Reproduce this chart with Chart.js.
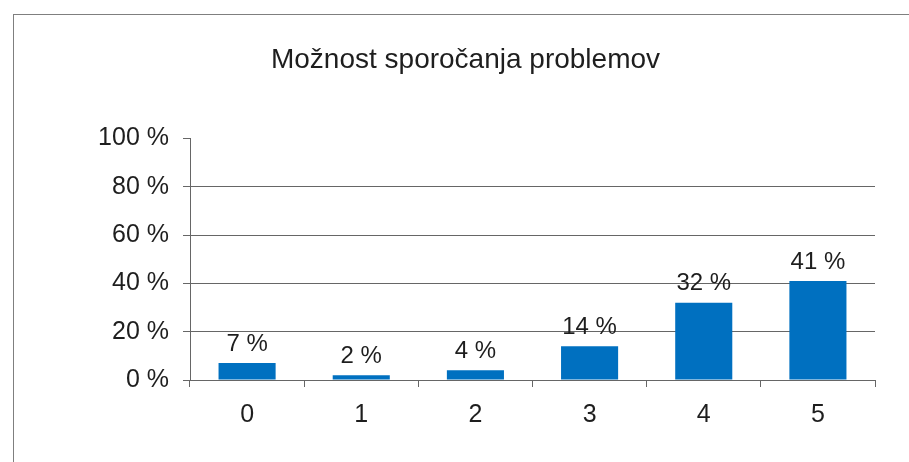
<!DOCTYPE html>
<html>
<head>
<meta charset="utf-8">
<script src="https://cdn.jsdelivr.net/npm/chart.js@4"></script>
<style>
  html, body { margin: 0; padding: 0; background: #fff; }
  #wrap { position: relative; width: 909px; height: 462px; }
  #frame { position: absolute; left: 13px; top: 14px; right: -2px; bottom: -2px;
           border-top: 1px solid #7f7f7f; border-left: 1px solid #7f7f7f; pointer-events: none; }
</style>
</head>
<body>
<div id="wrap">
  <canvas id="c"></canvas>
  <div id="frame"></div>
</div>
<script>
// chart data
const TITLE = 'Možnost sporočanja problemov';
const categories = ['0', '1', '2', '3', '4', '5'];
const shares = [7, 2, 4, 14, 32, 41];
const yTicks = [0, 20, 40, 60, 80, 100];

const BAR_COLOR = '#0070c0';
const TEXT_COLOR = '#1e1e1e';
const LINE_COLOR = '#666666';
const FONT_FAMILY = 'Arial, "Liberation Sans", sans-serif';

// values above each bar, e.g. "14 %"
const barLabels = {
  id: 'barLabels',
  afterDatasetsDraw(chart) {
    const { ctx } = chart;
    const meta = chart.getDatasetMeta(0);
    ctx.save();
    ctx.font = '24px ' + FONT_FAMILY;
    ctx.fillStyle = TEXT_COLOR;
    ctx.textAlign = 'center';
    ctx.textBaseline = 'middle';
    meta.data.forEach((bar, i) => {
      ctx.fillText(shares[i] + ' %', bar.x, bar.y - 19);
    });
    ctx.restore();
  },
};

new Chart(document.getElementById('c').getContext('2d'), {
  type: 'bar',
  data: {
    labels: categories,
    datasets: [{
      data: shares,
      backgroundColor: BAR_COLOR,
      borderWidth: 0,
      categoryPercentage: 1.0,
      barPercentage: 0.5,
    }],
  },
  options: {
    responsive: true,
    maintainAspectRatio: false,
    animation: false,
    layout: { padding: { left: 56, right: 34, top: 0, bottom: 0 } },
    plugins: {
      legend: { display: false },
      tooltip: { enabled: false },
      title: {
        display: true,
        text: TITLE,
        color: TEXT_COLOR,
        font: { family: FONT_FAMILY, size: 28, weight: 'normal', lineHeight: 1.2 },
        padding: { top: 43, bottom: 62 },
      },
    },
    scales: {
      x: {
        grid: { display: true, drawOnChartArea: false, tickLength: 7, color: LINE_COLOR, offset: true },
        border: { color: LINE_COLOR, width: 1 },
        ticks: { color: TEXT_COLOR, font: { family: FONT_FAMILY, size: 25 }, padding: 13 },
        afterFit(scale) { scale.height = 82; },
      },
      y: {
        min: 0,
        max: 100,
        afterBuildTicks(scale) { scale.ticks = yTicks.map((v) => ({ value: v })); },
        grid: {
          tickLength: 7,
          color: (c) => (c.tick && c.tick.value === 100 ? 'rgba(0,0,0,0)' : LINE_COLOR),
          tickColor: LINE_COLOR,
        },
        border: { color: LINE_COLOR, width: 1 },
        ticks: {
          color: TEXT_COLOR,
          font: { family: FONT_FAMILY, size: 25 },
          padding: 14,
          callback: (v) => v + ' %',
        },
        afterFit(scale) { scale.width = 134; },
      },
    },
  },
  plugins: [barLabels],
});
</script>
</body>
</html>
